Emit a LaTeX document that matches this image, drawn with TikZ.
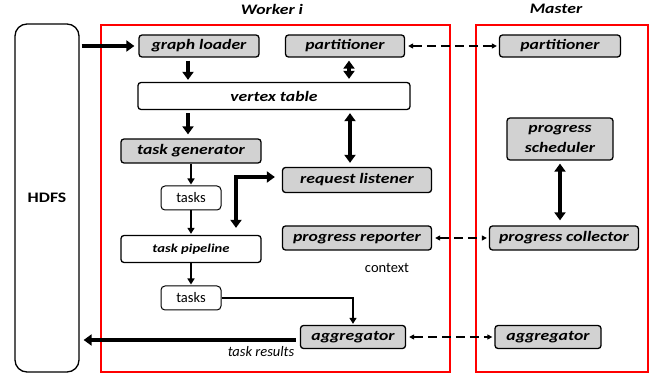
\documentclass[tikz,border=0pt]{standalone}
\usepackage{fontspec}
\setmainfont{Carlito}
\newfontfamily\widefont{Carlito}[FakeStretch=1.22]
\usetikzlibrary{calc}
\usetikzlibrary{arrows.meta}
\definecolor{boxgray}{RGB}{210,210,210}

\begin{document}
\begin{tikzpicture}[x=1pt, y=-1pt,
  mod/.style={draw, line width=1.3pt, rounded corners=3pt, fill=boxgray, inner sep=0,
    font=\widefont\fontsize{14.5}{16}\selectfont\bfseries\itshape},
  wmod/.style={mod, fill=white},
  tk/.style={draw, line width=1pt, rounded corners=4pt, fill=white, inner sep=0,
    minimum width=60, minimum height=24, font=\fontsize{14.5}{16}\selectfont},
  bigarr/.style={black, line width=4pt, >={Triangle[length=8pt, width=11pt]}},
  thinarr/.style={black, line width=1.6pt, ->, >={Triangle[length=6pt, width=7pt]}},
  dasharr/.style={black, line width=1.5pt, <->, >={Triangle[length=5pt, width=5pt]}, dash pattern=on 9pt off 5pt},
  redbox/.style={red, line width=2pt}]
\useasboundingbox (0,0) rectangle (657,377);

% HDFS and the two red frames
\node[draw, line width=1.3pt, rounded corners=12pt, minimum width=64, minimum height=348, inner sep=0,
  font=\widefont\fontsize{14.5}{16}\selectfont\bfseries] (hdfs) at (47,198) {HDFS};
\draw[redbox] (101,25) rectangle (450,372);
\draw[redbox] (476,25) rectangle (648,372);
\node[font=\widefont\fontsize{14.5}{16}\selectfont\bfseries\itshape] (wlabel) at (272,9) {Worker i};
\node[font=\widefont\fontsize{14.5}{16}\selectfont\bfseries\itshape] (mlabel) at (556,9) {Master};

% worker modules
\node[mod, minimum width=120, minimum height=22] (gl) at (199,46) {graph loader};
\node[mod, minimum width=119, minimum height=22] (part) at (345,46) {partitioner};
\node[wmod, minimum width=272, minimum height=27] (vt) at (274,96) {vertex table};
\node[mod, minimum width=140, minimum height=24] (tg) at (191,151) {task generator};
\node[mod, minimum width=149, minimum height=25] (rl) at (357,180) {request listener};
\node[tk] (t1) at (191,198) {tasks};
\node[wmod, minimum width=140, minimum height=27, font=\widefont\fontsize{12}{14}\selectfont\bfseries\itshape] (tp) at (191,249) {task pipeline};
\node[tk] (t2) at (191,298) {tasks};
\node[mod, minimum width=149, minimum height=24] (pr) at (357,238) {progress reporter};
\node[font=\fontsize{14.5}{16}\selectfont] (ctx) at (387,268) {context};
\node[font=\fontsize{14.5}{16}\selectfont\itshape] (res) at (261,352) {task results};
\node[mod, minimum width=105, minimum height=23] (agg) at (353,337) {aggregator};

% master modules
\node[mod, minimum width=121, minimum height=22] (mpart) at (560,46) {partitioner};
\node[mod, minimum width=106, minimum height=42, align=center,
  font=\widefont\fontsize{14.5}{20}\selectfont\bfseries\itshape] (ps) at (560,139) {progress\\scheduler};
\node[mod, minimum width=149, minimum height=24] (pc) at (564,238) {progress collector};
\node[mod, minimum width=106, minimum height=23] (magg) at (548,337) {aggregator};

% data flow
\draw[bigarr, ->, shorten <=2pt, shorten >=4pt] (hdfs.east |- gl.west) -- (gl.west);
\draw[bigarr, ->, shorten <=3pt, shorten >=2pt] ([xshift=-11]gl.south) -- ([xshift=-11]gl.south |- vt.north);
\draw[bigarr, ->, shorten <=3pt, shorten >=4pt] ([xshift=-3]tg.north |- vt.south) -- ([xshift=-3]tg.north);
\draw[thinarr, shorten >=1pt] (tg) -- (t1);
\draw[thinarr, shorten >=1pt] (t1) -- (tp);
\draw[thinarr, shorten >=1pt] (tp) -- (t2);
\draw[thinarr, shorten >=1pt] (t2.east) -| (agg.north);
\draw[bigarr, <->, shorten <=3pt, shorten >=3pt] ([xshift=4]part.south) -- ([xshift=4]part.south |- vt.north);
\draw[bigarr, <->, shorten <=4pt, shorten >=3pt] ([xshift=-7]rl.north) -- ([xshift=-7]rl.north |- vt.south);
\draw[bigarr, <->, shorten <=7pt, shorten >=7pt] ([yshift=3]rl.west) -| ([xshift=45]tp.north);
\draw[bigarr, ->, shorten <=4pt, shorten >=4pt] ([yshift=-3]agg.west) -- ([yshift=-3]agg.west -| hdfs.east);
\draw[bigarr, <->, shorten <=3pt, shorten >=5pt] (ps.south) -- (ps.south |- pc.north);

% worker <-> master
\draw[dasharr, shorten <=3pt, shorten >=2pt] (part) -- (mpart);
\draw[dasharr, shorten <=3pt, shorten >=2pt] (pr) -- (pc);
\draw[dasharr, shorten <=3pt, shorten >=2pt] (agg) -- (magg);
\end{tikzpicture}
\end{document}
